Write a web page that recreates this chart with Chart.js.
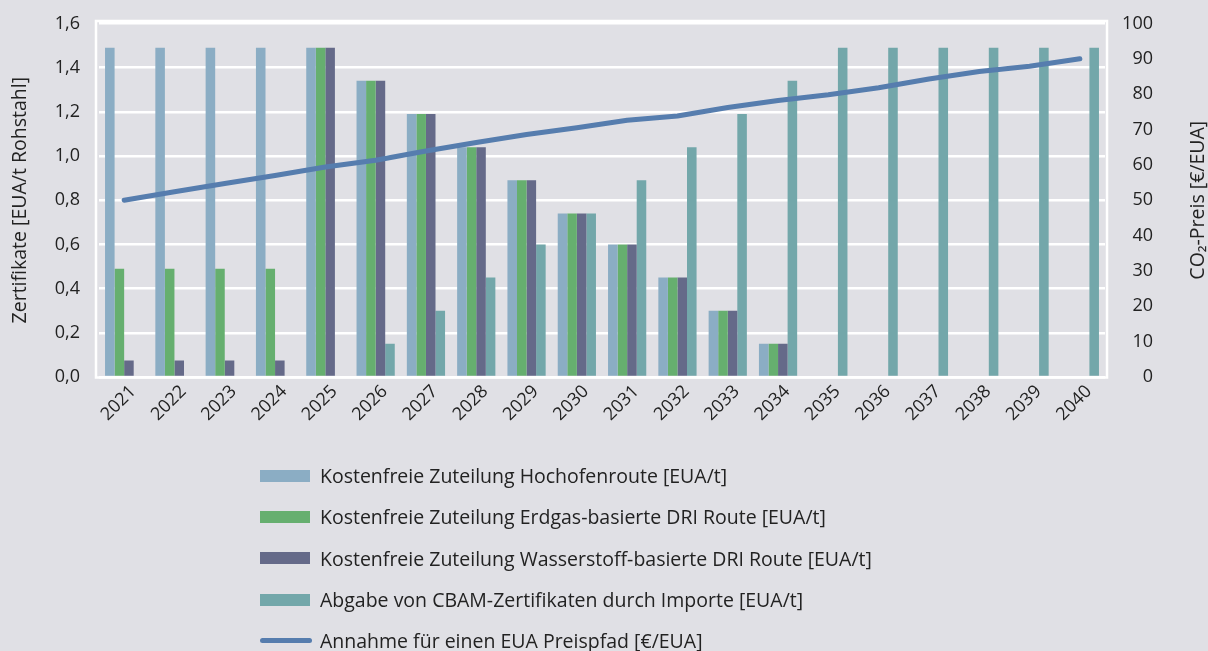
<!DOCTYPE html>
<html><head><meta charset="utf-8">
<script src="https://cdn.jsdelivr.net/npm/chart.js@4"></script>
<style>
html,body{margin:0;padding:0;background:#e0e0e5;}
#wrap{position:relative;width:1208px;height:651px;}
#legend{position:absolute;left:260px;top:455px;font-family:'Open Sans';font-size:19.5px;color:#222;}
.item{display:flex;align-items:center;height:41.3px;white-space:nowrap;}
.sw{width:50px;height:12px;margin-right:10px;flex:none;}
.ln{width:52px;height:5px;border-radius:3px;margin-right:8px;flex:none;}
</style></head><body>
<div id="wrap"><canvas id="c" width="1208" height="651"></canvas><div id="legend"></div></div>
<script>
const years = ['2021','2022','2023','2024','2025','2026','2027','2028','2029','2030','2031','2032','2033','2034','2035','2036','2037','2038','2039','2040'];
const hochofen =    [1.49,1.49,1.49,1.49,1.49,1.34,1.19,1.04,0.89,0.74,0.60,0.45,0.30,0.15,0,0,0,0,0,0];
const erdgasDRI =   [0.49,0.49,0.49,0.49,1.49,1.34,1.19,1.04,0.89,0.74,0.60,0.45,0.30,0.15,0,0,0,0,0,0];
const wasserstoffDRI = [0.075,0.075,0.075,0.075,1.49,1.34,1.19,1.04,0.89,0.74,0.60,0.45,0.30,0.15,0,0,0,0,0,0];
const cbamImporte = [0,0,0,0,0,0.15,0.30,0.45,0.60,0.74,0.89,1.04,1.19,1.34,1.49,1.49,1.49,1.49,1.49,1.49];
const euaPreis =    [50,52.4,54.7,57,59.4,61.3,63.9,66.3,68.6,70.5,72.6,73.8,76.2,78.2,79.8,81.8,84.3,86.4,87.9,90];
const leftTicks = [0,0.2,0.4,0.6,0.8,1.0,1.2,1.4,1.6];
const rightTicks = [0,10,20,30,40,50,60,70,80,90,100];

const labels = {
  h:'Kostenfreie Zuteilung Hochofenroute [EUA/t]',
  e:'Kostenfreie Zuteilung Erdgas-basierte DRI Route [EUA/t]',
  w:'Kostenfreie Zuteilung Wasserstoff-basierte DRI Route [EUA/t]',
  c:'Abgabe von CBAM-Zertifikaten durch Importe [EUA/t]',
  p:'Annahme für einen EUA Preispfad [€/EUA]'
};
const FONT = "'Open Sans'";
const TXT = '#222';

const framePlugin = {
  id:'frame',
  beforeDatasetsDraw(chart){
    const a = chart.chartArea, ctx = chart.ctx;
    ctx.save();
    ctx.strokeStyle = '#ffffff';
    ctx.lineWidth = 2.5;
    ctx.strokeRect(a.left-3, a.top-2.4, (a.right+2)-(a.left-3), (a.bottom+0.5)-(a.top-2.4));
    ctx.restore();
  }
};
const titlePlugin = {
  id:'titles',
  afterDraw(chart){
    const a = chart.chartArea, ctx = chart.ctx;
    const cy = (a.top + a.bottom)/2;
    ctx.save();
    ctx.fillStyle = TXT;
    ctx.font = "19.5px " + FONT;
    ctx.textAlign = 'center';
    ctx.textBaseline = 'middle';
    ctx.translate(20, cy);
    ctx.rotate(-Math.PI/2);
    ctx.fillText('Zertifikate [EUA/t Rohstahl]', 0, 0);
    ctx.restore();
    ctx.save();
    ctx.fillStyle = TXT;
    ctx.font = "19.5px " + FONT;
    ctx.textAlign = 'center';
    ctx.textBaseline = 'middle';
    ctx.translate(chart.width - 10, cy);
    ctx.rotate(-Math.PI/2);
    ctx.fillText('CO₂-Preis [€/EUA]', 0, 0);
    ctx.restore();
  }
};

const barCommon = {type:'bar', yAxisID:'y', order:1, categoryPercentage:0.76, barPercentage:1.0, borderWidth:0};
const chart = new Chart(document.getElementById('c'), {
  data:{
    labels: years,
    datasets:[
      Object.assign({label:labels.h, data:hochofen, backgroundColor:'#8badc4'}, barCommon),
      Object.assign({label:labels.e, data:erdgasDRI, backgroundColor:'#66af6f'}, barCommon),
      Object.assign({label:labels.w, data:wasserstoffDRI, backgroundColor:'#656a89'}, barCommon),
      Object.assign({label:labels.c, data:cbamImporte, backgroundColor:'#73a7aa'}, barCommon),
      {type:'line', label:labels.p, data:euaPreis, yAxisID:'y1', order:0, borderColor:'#567dae', backgroundColor:'#567dae',
       borderWidth:5, borderCapStyle:'round', borderJoinStyle:'round', pointRadius:0, tension:0, fill:false}
    ]
  },
  options:{
    responsive:false, animation:false, devicePixelRatio:1,
    layout:{padding:{top:23.4, right:55, bottom:196, left:0}},
    plugins:{legend:{display:false}, tooltip:{enabled:false}},
    scales:{
      x:{
        grid:{display:false, drawTicks:false}, border:{display:false},
        ticks:{color:TXT, font:{family:FONT, size:18}, minRotation:45, maxRotation:45, autoSkip:false, padding:4, labelOffset:9},
        afterFit(s){ s.height = 78; s.paddingLeft = 0; s.paddingRight = 0; }
      },
      y:{
        position:'left', min:0, max:1.6,
        afterBuildTicks(s){ s.ticks = leftTicks.map(v=>({value:v})); },
        grid:{color:'#ffffff', lineWidth:2.5, drawTicks:false}, border:{display:false},
        ticks:{color:TXT, font:{family:FONT, size:18}, padding:19, callback:v=>v.toFixed(1).replace('.',',')},
        afterFit(s){ s.width = 99; s.paddingTop = 0; s.paddingBottom = 0; }
      },
      y1:{
        position:'right', min:0, max:100,
        afterBuildTicks(s){ s.ticks = rightTicks.map(v=>({value:v})); },
        grid:{display:false, drawTicks:false}, border:{display:false},
        ticks:{color:TXT, font:{family:FONT, size:18}, crossAlign:'far', callback:v=>String(v)},
        afterFit(s){ s.width = 48; s.paddingTop = 0; s.paddingBottom = 0; }
      }
    }
  },
  plugins:[framePlugin, titlePlugin]
});

// HTML legend built from the chart datasets
const lg = document.getElementById('legend');
chart.data.datasets.forEach(ds=>{
  const row = document.createElement('div'); row.className='item';
  const sw = document.createElement('span');
  sw.className = ds.type==='line' ? 'ln' : 'sw';
  sw.style.background = ds.type==='line' ? ds.borderColor : ds.backgroundColor;
  const t = document.createElement('span'); t.textContent = ds.label;
  row.appendChild(sw); row.appendChild(t); lg.appendChild(row);
});
</script>
</body></html>
